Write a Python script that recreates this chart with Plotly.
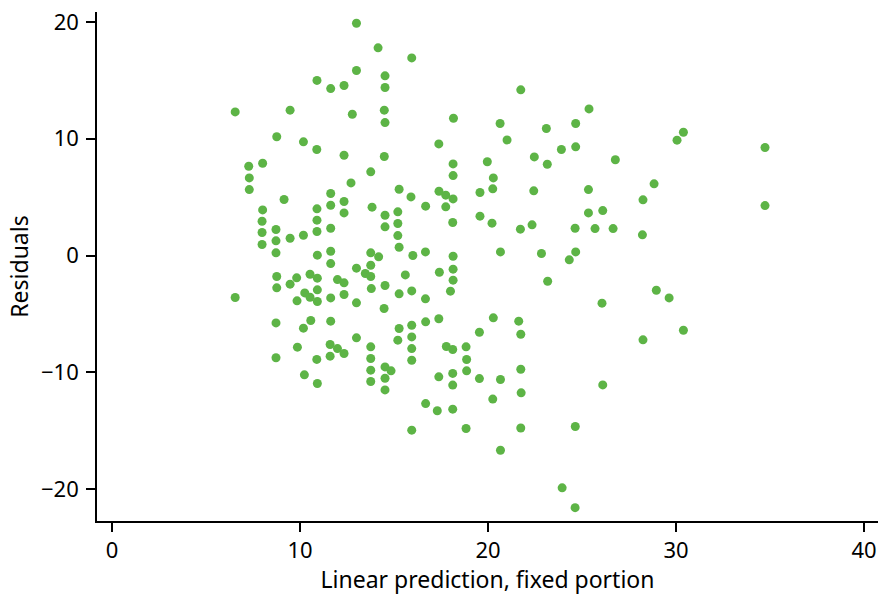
import plotly.graph_objects as go

# Fixed-portion linear prediction (x) and residuals (y)
pred = [
    6.55, 6.55,
    7.27, 7.30, 7.30,
    8.01, 8.01, 7.98, 7.98, 7.98,
    8.76, 8.72, 8.72, 8.72, 8.76, 8.76, 8.72, 8.72,
    9.15,
    9.47, 9.47, 9.47,
    9.82, 9.84, 9.86,
    10.18, 10.18, 10.25, 10.18, 10.23,
    10.53, 10.53, 10.57,
    10.90, 10.89, 10.90, 10.90, 10.90, 10.92, 10.92, 10.92, 10.92, 10.89, 10.92,
    11.63, 11.63, 11.63, 11.63, 11.63, 11.63, 11.63, 11.63, 11.60, 11.60,
    11.99, 11.99,
    12.34, 12.34, 12.34, 12.34, 12.34, 12.34, 12.34,
    12.71, 12.78,
    13.00, 13.00, 13.00, 13.00, 13.00,
    13.47,
    13.76, 13.83, 13.76, 13.76, 13.76, 13.79, 13.76, 13.76, 13.76, 13.76,
    14.15, 14.18,
    14.52, 14.52, 14.48, 14.52, 14.48, 14.52, 14.52, 14.52, 14.47, 14.52, 14.52, 14.52,
    14.84,
    15.27, 15.20, 15.20, 15.20, 15.27, 15.27, 15.27, 15.20,
    15.60,
    15.94, 15.90, 16.00, 15.94, 15.94, 15.94, 15.94, 15.94, 15.94,
    16.68, 16.67, 16.67, 16.68, 16.68,
    17.38, 17.39, 17.41, 17.38, 17.38, 17.30,
    17.75, 17.75, 17.78,
    18.16, 18.14, 18.14, 18.14, 18.12, 18.14, 18.14, 18.14, 18.00, 18.12, 18.12, 18.12, 18.12,
    18.83, 18.86, 18.86, 18.83,
    19.57, 19.57, 19.54, 19.54,
    19.96,
    20.28, 20.25, 20.21, 20.28, 20.25,
    20.64, 20.66, 20.66, 20.66,
    21.01,
    21.74, 21.72, 21.63, 21.74, 21.74, 21.76, 21.74,
    22.46, 22.43, 22.34,
    22.84,
    23.10, 23.15, 23.17,
    23.90, 23.94,
    24.32,
    24.66, 24.66, 24.63, 24.66, 24.64, 24.63,
    25.37, 25.34, 25.34,
    25.69,
    26.10, 26.06, 26.10,
    26.77, 26.65,
    28.24, 28.21, 28.24,
    28.83, 28.95,
    29.63,
    30.05,
    30.39, 30.39,
    34.73, 34.73,
]

resid = [
    12.3, -3.6,
    7.65, 6.65, 5.65,
    7.9, 3.91, 2.94, 1.97, 0.94,
    10.17, 2.23, 1.26, 0.23, -1.8, -2.77, -5.77, -8.76,
    4.8,
    12.45, 1.48, -2.45,
    -1.91, -3.88, -7.85,
    9.74, 1.74, -3.2, -6.22, -10.22,
    -1.6, -3.57, -5.57,
    15.0, 9.08, 4.0, 3.03, 2.06, 0.03, -1.94, -2.94, -3.94, -8.9, -10.96,
    14.3, 5.31, 4.31, 2.34, 0.37, -0.69, -3.63, -5.62, -7.62, -8.62,
    -2.06, -7.97,
    14.56, 8.59, 4.63, 3.65, -2.34, -3.34, -8.39,
    6.22, 12.1,
    19.9, 15.85, -1.08, -4.05, -7.05,
    -1.54,
    7.17, 4.14, 0.23, -0.83, -1.8, -2.83, -7.82, -8.82, -9.82, -10.79,
    17.79, -0.11,
    15.39, 14.39, 12.45, 11.39, 8.48, 3.45, 2.46, -2.57, -4.54, -9.54, -10.51, -11.51,
    -9.88,
    5.68, 3.74, 2.74, 1.71, 0.71, -3.28, -6.25, -7.25,
    -1.66,
    16.93, 5.02, 0.0, -3.03, -5.97, -6.97, -7.97, -8.97, -14.96,
    4.23, 0.31, -3.71, -5.68, -12.68,
    9.56, 5.51, -1.43, -5.42, -10.39, -13.3,
    5.17, 4.17, -7.79,
    11.76, 7.85, 6.85, 4.85, 2.83, -0.06, -1.17, -2.11, -3.05, -8.05, -10.1, -11.1, -13.16,
    -7.82, -8.91, -9.88, -14.82,
    5.4, 3.37, -6.57, -10.54,
    8.03,
    6.65, 5.71, 2.77, -5.34, -12.3,
    11.31, 0.31, -10.62, -16.68,
    9.9,
    14.19, 2.26, -5.62, -6.74, -9.74, -11.76, -14.77,
    8.45, 5.54, 2.63,
    0.17,
    10.88, 7.82, -2.2,
    9.08, -19.9,
    -0.37,
    11.31, 9.31, 2.34, 0.31, -14.65, -21.6,
    12.56, 5.65, 3.65,
    2.31,
    3.85, -4.08, -11.08,
    8.2, 2.31,
    4.77, 1.77, -7.22,
    6.14, -2.97,
    -3.63,
    9.88,
    10.56, -6.4,
    9.25, 4.28,
]

x_ticks = [0, 10, 20, 30, 40]
y_ticks = [-20, -10, 0, 10, 20]

FONT = "Noto Sans"

fig = go.Figure(
    go.Scatter(
        x=pred,
        y=resid,
        mode="markers",
        marker=dict(size=9, color="#5db446", line=dict(width=0)),
        hoverinfo="x+y",
    )
)

axis_common = dict(
    showline=True,
    linecolor="black",
    linewidth=1.6,
    ticks="outside",
    ticklen=9,
    tickwidth=1.6,
    tickcolor="black",
    showgrid=False,
    zeroline=False,
    tickfont=dict(family=FONT, size=22, color="black"),
    mirror=False,
)

fig.update_xaxes(
    **axis_common,
    range=[-0.8, 40.74],
    tickvals=x_ticks,
    ticktext=[str(v) for v in x_ticks],
    title=dict(text="Linear prediction, fixed portion",
               font=dict(family=FONT, size=23, color="black"), standoff=4),
)
fig.update_yaxes(
    **axis_common,
    range=[-22.74, 20.86],
    tickvals=y_ticks,
    ticklabelstandoff=3,
    title=dict(text="Residuals",
               font=dict(family=FONT, size=23, color="black"), standoff=6),
)

fig.update_layout(
    width=881,
    height=595,
    margin=dict(l=97, r=3, t=12, b=74, autoexpand=False),
    paper_bgcolor="white",
    plot_bgcolor="white",
    showlegend=False,
)

fig.write_html("out.html")
